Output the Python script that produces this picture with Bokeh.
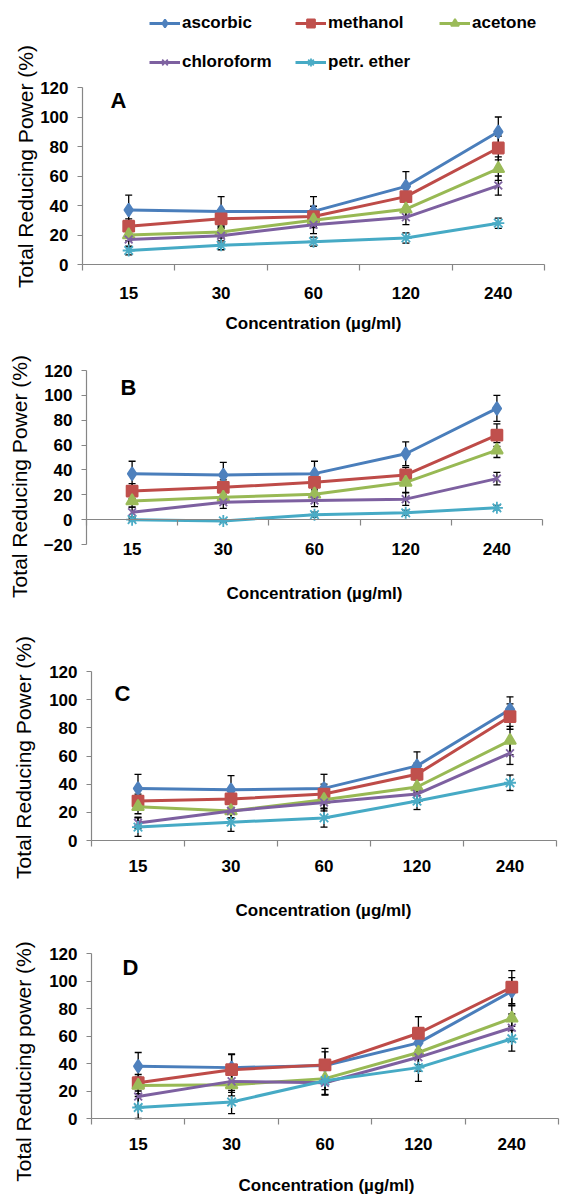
from bokeh.plotting import figure
from bokeh.layouts import column
from bokeh.models import (Range1d, FixedTicker, LinearAxis, Whisker, TeeHead,
                          ColumnDataSource, Legend, LegendItem, Label)
from bokeh.embed import file_html
from bokeh.resources import INLINE

# ---------------- data ----------------
concentrations = ["15", "30", "60", "120", "240"]
series_names = ["ascorbic", "methanol", "acetone", "chloroform", "petr. ether"]

A_ascorbic = [37, 36, 36, 53, 90]
A_methanol = [26, 31, 32.5, 46, 79]
A_acetone = [20, 22, 30, 37.5, 65]
A_chloroform = [17, 19.5, 27, 32, 53.5]
A_petr_ether = [9.5, 13, 15.5, 18, 28]
A_ascorbic_err = [10, 10, 10, 10, 10]
A_methanol_err = [5, 6, 7, 8, 8]
A_acetone_err = [4, 4, 5, 5, 8]
A_chloroform_err = [5, 5, 6, 5, 6.5]
A_petr_ether_err = [3, 3, 3, 3.5, 3.5]

B_ascorbic = [37, 36, 37, 53, 89.5]
B_methanol = [23, 26, 30, 36, 68]
B_acetone = [15, 18, 20.5, 30, 56]
B_chloroform = [6, 14, 15.5, 16.5, 33]
B_petr_ether = [0, -1, 4, 5.5, 9.5]
B_ascorbic_err = [10, 10, 10, 9.5, 10.5]
B_methanol_err = [6, 6, 6, 6, 9]
B_acetone_err = [5, 5, 5, 8, 6]
B_chloroform_err = [4, 5, 5, 5, 5]
B_petr_ether_err = [1, 1, 2, 2, 2]

C_ascorbic = [37, 36, 37, 53, 93]
C_methanol = [28, 29.5, 33, 47, 88]
C_acetone = [24, 21, 29, 38, 71]
C_chloroform = [12.5, 21, 27, 33, 62]
C_petr_ether = [9.5, 13, 16, 28, 41]
C_ascorbic_err = [10, 10, 10, 10, 9]
C_methanol_err = [5, 6, 7, 8, 9]
C_acetone_err = [5, 5, 6, 6, 10]
C_chloroform_err = [4, 5, 6, 6, 8]
C_petr_ether_err = [6.5, 6.5, 6.5, 6, 5.5]

D_ascorbic = [38, 37, 38.5, 55, 92.5]
D_methanol = [26, 35.5, 39, 62, 95.5]
D_acetone = [24, 24.5, 29, 48, 73]
D_chloroform = [16, 27, 26, 44.5, 66]
D_petr_ether = [8, 12, 27.5, 37, 58]
D_ascorbic_err = [10, 10, 10, 10, 10]
D_methanol_err = [6, 11, 12, 12, 12]
D_acetone_err = [6, 8, 8, 9, 9]
D_chloroform_err = [7, 8, 9, 10, 10]
D_petr_ether_err = [8, 8.5, 10, 10, 9]

y_title = "Total Reducing Power (%)"
y_title_D = "Total Reducing power (%)"
x_title = "Concentration (\u00b5g/ml)"

# ---------------- styles ----------------
FONT = "'Liberation Sans', Arial, sans-serif"
AXIS_GRAY = "#868686"
FIG_W = 563

styles = {
    "ascorbic": dict(color="#4A7EBB", fill="#4F81BD", marker="diamond", size=13),
    "methanol": dict(color="#BE4B48", fill="#C0504D", marker="square", size=11),
    "acetone": dict(color="#98B954", fill="#9BBB59", marker="triangle", size=12),
    "chloroform": dict(color="#7D60A0", fill="#8064A2", marker="x", size=11),
    "petr. ether": dict(color="#46AAC5", fill="#4BACC6", marker="asterisk", size=12),
}

xs = [i + 0.5 for i in range(len(concentrations))]
NCAT = len(concentrations)


def make_panel(letter, vals, errs, ymin, ytitle, g, with_legend=False):
    top, bot = g["fig"]
    H = bot - top
    # the frame covers the whole figure; ranges are stretched so that the
    # axes (drawn at fixed data locations, with bounds) sit where they should
    sx = (g["x5"] - g["x0"]) / NCAT
    x_start = (0 - g["x0"]) / sx
    x_end = (FIG_W - g["x0"]) / sx
    pxu = (g["ybase"] - g["y120"]) / (120 - ymin)
    y_start = ymin + (g["ybase"] - bot) / pxu
    y_end = ymin + (g["ybase"] - top) / pxu

    p = figure(width=FIG_W, height=H,
               x_range=Range1d(x_start, x_end), y_range=Range1d(y_start, y_end),
               x_axis_type=None, y_axis_type=None,
               output_backend="svg", toolbar_location=None,
               min_border=0, min_border_left=0, min_border_right=0,
               min_border_top=0, min_border_bottom=0,
               outline_line_color=None, background_fill_color="white",
               border_fill_color="white")
    p.grid.visible = False

    # y axis at x = 0
    ya = LinearAxis(fixed_location=0, bounds=(ymin, 120),
                    ticker=FixedTicker(ticks=list(range(ymin, 121, 20)), minor_ticks=[]),
                    axis_line_color=AXIS_GRAY, axis_line_width=1.2,
                    major_tick_line_color=AXIS_GRAY, major_tick_out=5, major_tick_in=0,
                    minor_tick_line_color=None, major_label_standoff=9,
                    major_label_text_font=FONT, major_label_text_font_style="bold",
                    major_label_text_font_size="17px", major_label_text_color="black")
    p.add_layout(ya, "left")

    # category axis line at y = 0, ticks between categories
    line_axis = LinearAxis(fixed_location=0, bounds=(0, NCAT),
                           ticker=FixedTicker(ticks=[], minor_ticks=list(range(NCAT + 1))),
                           axis_line_color=AXIS_GRAY, axis_line_width=1.2,
                           major_tick_line_color=None,
                           minor_tick_line_color=AXIS_GRAY, minor_tick_line_width=1.2,
                           minor_tick_in=0, minor_tick_out=6,
                           major_label_text_font_size="0px")
    p.add_layout(line_axis, "below")

    # category labels below the lowest y value
    label_axis = LinearAxis(fixed_location=ymin, bounds=(0, NCAT),
                            ticker=FixedTicker(ticks=xs, minor_ticks=[]),
                            major_label_overrides={x: c for x, c in zip(xs, concentrations)},
                            axis_line_color=None, major_tick_line_color=None,
                            minor_tick_line_color=None, major_tick_out=0, major_tick_in=0,
                            minor_tick_out=0, minor_tick_in=0,
                            major_label_standoff=g["xl_standoff"],
                            major_label_text_font=FONT, major_label_text_font_style="bold",
                            major_label_text_font_size="17px", major_label_text_color="black")
    p.add_layout(label_axis, "below")

    items = []
    for name in series_names:
        st = styles[name]
        v = vals[name]
        e = errs[name]
        src = ColumnDataSource(dict(x=xs, y=v,
                                    upper=[a + b for a, b in zip(v, e)],
                                    lower=[a - b for a, b in zip(v, e)]))
        lr = p.line("x", "y", source=src, line_color=st["color"], line_width=3)
        w = Whisker(base="x", upper="upper", lower="lower", source=src,
                    line_color="black", line_width=1.3,
                    upper_head=TeeHead(size=7, line_color="black", line_width=1.3),
                    lower_head=TeeHead(size=7, line_color="black", line_width=1.3))
        p.add_layout(w)
        mr = p.scatter("x", "y", source=src, marker=st["marker"], size=st["size"],
                       fill_color=st["fill"], line_color=st["fill"], line_width=1.8)
        items.append((name, lr, mr))

    def frame_label(cx, cy, text, **kw):
        # cx, cy: page px of the text centre -> screen units from frame bottom-left
        p.add_layout(Label(x=cx, y=bot - cy, x_units="screen", y_units="screen",
                           text=text, text_align="center", text_baseline="middle",
                           text_font=FONT, text_color="black", **kw))

    frame_label(g["yt"][0], g["yt"][1], ytitle, angle=90, angle_units="deg",
                text_font_size="21px")
    frame_label(g["lt"][0], g["lt"][1], letter, text_font_style="bold",
                text_font_size="22px")
    frame_label(g["xt"][0], g["xt"][1], x_title, text_font_style="bold",
                text_font_size="17px")

    if with_legend:
        for (name, lr, mr), (lx, ly) in zip(items, g["legend_pos"]):
            lg = Legend(items=[LegendItem(label=name, renderers=[lr, mr])],
                        location=(lx, bot - ly - 10),
                        orientation="horizontal",
                        padding=0, margin=0, border_line_color=None,
                        background_fill_alpha=0, glyph_width=31, glyph_height=20,
                        label_standoff=2, label_height=20,
                        label_text_font=FONT, label_text_font_style="bold",
                        label_text_font_size="17px", label_text_color="black",
                        label_text_baseline="middle")
            p.add_layout(lg)
    return p


def pack(prefix):
    g = globals()
    vals = {n: g[prefix + "_" + n.replace(". ", "_")] for n in series_names}
    errs = {n: g[prefix + "_" + n.replace(". ", "_") + "_err"] for n in series_names}
    return vals, errs


# page-pixel geometry of each panel (ybase = page y of the lowest y value)
geom = {
    "A": dict(fig=(0, 338), y120=87, ybase=264, x0=82, x5=544,
              xl_standoff=22, yt=(25, 166), lt=(118, 100), xt=(313, 323),
              legend_pos=[(149, 23), (295, 23), (439, 23), (149, 62), (295, 62)]),
    "B": dict(fig=(338, 612), y120=370, ybase=544, x0=86, x5=542,
              xl_standoff=-2, yt=(19, 476), lt=(128, 387), xt=(314, 593)),
    "C": dict(fig=(612, 925), y120=671, ybase=840, x0=91, x5=556,
              xl_standoff=19, yt=(23, 757), lt=(122, 693), xt=(323, 910)),
    "D": dict(fig=(925, 1198), y120=953, ybase=1118, x0=91, x5=558,
              xl_standoff=19, yt=(23, 1061), lt=(130, 967), xt=(326, 1185)),
}

vA, eA = pack("A")
vB, eB = pack("B")
vC, eC = pack("C")
vD, eD = pack("D")

pA = make_panel("A", vA, eA, 0, y_title, geom["A"], with_legend=True)
pB = make_panel("B", vB, eB, -20, y_title, geom["B"])
pC = make_panel("C", vC, eC, 0, y_title, geom["C"])
pD = make_panel("D", vD, eD, 0, y_title_D, geom["D"])

layout = column(pA, pB, pC, pD, spacing=0)
open("out.html", "w").write(file_html(layout, INLINE))
